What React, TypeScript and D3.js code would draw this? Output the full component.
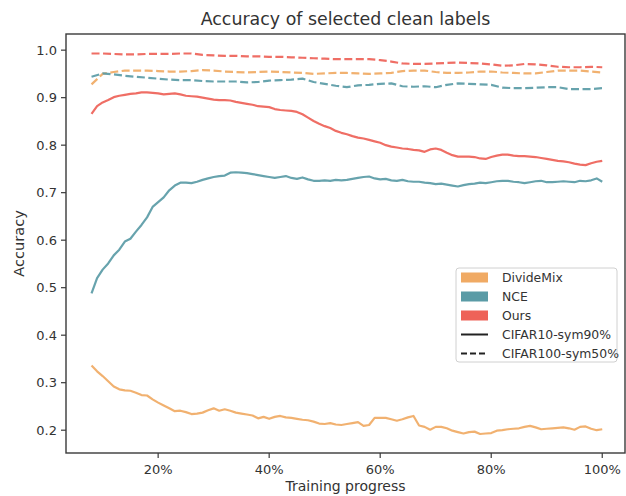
import React from 'react';
import * as d3 from 'd3';

const width = 626;
const height = 496;
const margin = { top: 34, right: 1, bottom: 43, left: 66 };

const fineSteps = d3.range(8, 101, 1);
const coarseSteps = d3.range(8, 101, 2);

const methods = ['DivideMix', 'NCE', 'Ours'];
const settings = ['CIFAR10-sym90%', 'CIFAR100-sym50%'];
const xTicks = [20, 40, 60, 80, 100];
const yTicks = [0.2, 0.3, 0.4, 0.5, 0.6, 0.7, 0.8, 0.9, 1.0];

// CIFAR10-sym90% (solid), one value per 1% of training
const divideMixSolid = [
  0.336, 0.324, 0.314, 0.303, 0.292, 0.286, 0.284, 0.283, 0.279, 0.274,
  0.273, 0.265, 0.258, 0.252, 0.246, 0.24, 0.241, 0.238, 0.234, 0.235,
  0.237, 0.242, 0.246, 0.241, 0.244, 0.241, 0.237, 0.235, 0.233, 0.231,
  0.225, 0.228, 0.224, 0.228, 0.23, 0.227, 0.226, 0.224, 0.222, 0.221,
  0.218, 0.214, 0.213, 0.215, 0.212, 0.211, 0.213, 0.215, 0.217, 0.209,
  0.211, 0.226, 0.226, 0.226, 0.223, 0.22, 0.223, 0.227, 0.23, 0.21,
  0.207, 0.201, 0.207, 0.207, 0.204, 0.199, 0.196, 0.193, 0.196, 0.197,
  0.192, 0.193, 0.194, 0.199, 0.2, 0.202, 0.203, 0.204, 0.207, 0.209,
  0.206, 0.202, 0.203, 0.204, 0.205, 0.206, 0.204, 0.201, 0.207, 0.208,
  0.203, 0.2, 0.202,
];
const nceSolid = [
  0.488, 0.52, 0.538, 0.551, 0.568, 0.58, 0.597, 0.603, 0.618, 0.632,
  0.648, 0.67, 0.68, 0.69, 0.705, 0.715, 0.721, 0.721, 0.72, 0.723,
  0.727, 0.73, 0.733, 0.735, 0.736, 0.742, 0.743, 0.742, 0.741, 0.739,
  0.737, 0.735, 0.733, 0.731, 0.733, 0.735, 0.731, 0.729, 0.732, 0.728,
  0.725, 0.725, 0.726, 0.725, 0.727, 0.726, 0.727, 0.729, 0.731, 0.733,
  0.734, 0.73, 0.728, 0.729, 0.726, 0.725, 0.727, 0.724, 0.723, 0.723,
  0.721, 0.72, 0.718, 0.719, 0.717, 0.715, 0.713, 0.716, 0.718, 0.719,
  0.721, 0.72, 0.722, 0.724, 0.725, 0.725, 0.723, 0.722, 0.72, 0.722,
  0.724, 0.725, 0.722, 0.722, 0.723, 0.724, 0.723, 0.722, 0.725, 0.724,
  0.726, 0.73, 0.723,
];
const oursSolid = [
  0.866, 0.882, 0.89, 0.895, 0.901, 0.904, 0.906, 0.908, 0.909, 0.911,
  0.911, 0.91, 0.909, 0.907, 0.908, 0.909, 0.907, 0.904, 0.903, 0.902,
  0.9, 0.898, 0.896, 0.895, 0.895, 0.894, 0.891, 0.889, 0.887, 0.885,
  0.882, 0.881, 0.88, 0.876, 0.874, 0.873, 0.872, 0.87, 0.865, 0.858,
  0.851, 0.845, 0.84, 0.836, 0.83, 0.826, 0.823, 0.819, 0.816, 0.814,
  0.811, 0.808, 0.805, 0.8, 0.797, 0.795, 0.793, 0.792, 0.79, 0.789,
  0.786, 0.791, 0.793, 0.79, 0.784, 0.779, 0.776, 0.776, 0.776, 0.775,
  0.772, 0.771, 0.775, 0.778, 0.78, 0.78, 0.778, 0.777, 0.777, 0.776,
  0.775, 0.773, 0.771, 0.769, 0.767, 0.766, 0.764, 0.761, 0.759, 0.758,
  0.762, 0.765, 0.767,
];

// CIFAR100-sym50% (dashed), one value per 2%
const divideMixDashed = [
  0.928, 0.95, 0.954, 0.957, 0.957, 0.957, 0.956, 0.955, 0.955, 0.956,
  0.958, 0.957, 0.955, 0.954, 0.953, 0.954, 0.955, 0.954, 0.953, 0.952,
  0.95, 0.951, 0.952, 0.952, 0.951, 0.95, 0.951, 0.952, 0.956, 0.957,
  0.957, 0.954, 0.952, 0.952, 0.953, 0.955, 0.955, 0.953, 0.952, 0.951,
  0.951, 0.954, 0.957, 0.957, 0.957, 0.955, 0.953,
];
const nceDashed = [
  0.944, 0.951, 0.949, 0.946, 0.944, 0.942, 0.94, 0.938, 0.937, 0.937,
  0.935, 0.934, 0.934, 0.934, 0.932, 0.933, 0.936, 0.937, 0.938, 0.94,
  0.933, 0.929, 0.925, 0.922, 0.926, 0.927, 0.929, 0.93, 0.924, 0.923,
  0.924, 0.922, 0.927, 0.93, 0.929, 0.928, 0.927, 0.921, 0.92, 0.92,
  0.921, 0.922, 0.922, 0.918, 0.918, 0.918, 0.92,
];
const oursDashed = [
  0.993, 0.993, 0.992, 0.991, 0.991, 0.992, 0.992, 0.992, 0.993, 0.993,
  0.99, 0.989, 0.988, 0.988, 0.987, 0.987, 0.986, 0.986, 0.985, 0.984,
  0.983, 0.982, 0.981, 0.981, 0.981, 0.981, 0.979, 0.976, 0.972, 0.971,
  0.971, 0.972, 0.973, 0.974, 0.973, 0.972, 0.97, 0.967, 0.968, 0.971,
  0.97, 0.968, 0.965, 0.964, 0.964, 0.965, 0.964,
];

const colors = ['#F0AA64', '#5A9BA6', '#EE6258'];
const font = 'DejaVu Sans, sans-serif';
const textColor = '#333';

export default function App() {
  const x = d3
    .scaleLinear()
    .domain([3.4, 104.1])
    .range([margin.left, width - margin.right]);
  const y = d3
    .scaleLinear()
    .domain([0.152, 1.034])
    .range([height - margin.bottom, margin.top]);

  const line = d3
    .line<[number, number]>()
    .x((d) => x(d[0]))
    .y((d) => y(d[1]));

  const solid = [divideMixSolid, nceSolid, oursSolid];
  const dashed = [divideMixDashed, nceDashed, oursDashed];

  const series = [
    ...solid.map((vals, i) => ({
      key: `s${i}`,
      color: colors[i],
      dash: undefined as string | undefined,
      pts: vals.map((v, j) => [fineSteps[j], v] as [number, number]),
    })),
    ...dashed.map((vals, i) => ({
      key: `d${i}`,
      color: colors[i],
      dash: '8,3.5',
      pts: vals.map((v, j) => [coarseSteps[j], v] as [number, number]),
    })),
  ];

  const left = margin.left;
  const right = width - margin.right;
  const top = margin.top;
  const bottom = height - margin.bottom;

  const lg = { x: 456, y: 268, w: 161, h: 94, row: 19 };

  return (
    <svg
      width={width}
      height={height}
      style={{ position: 'absolute', left: 0, top: 0, background: '#fff' }}
      fontFamily={font}
    >
      <rect width={width} height={height} fill="#fff" />
      <text x={(left + right) / 2} y={25} textAnchor="middle" fontSize={17.4} fill={textColor}>
        Accuracy of selected clean labels
      </text>

      {series.map((s) => (
        <path
          key={s.key}
          d={line(s.pts) || ''}
          fill="none"
          stroke={s.color}
          strokeWidth={2.2}
          strokeDasharray={s.dash}
          strokeLinejoin="round"
          opacity={0.92}
        />
      ))}

      {/* frame */}
      <rect
        x={left}
        y={top}
        width={right - left}
        height={bottom - top}
        fill="none"
        stroke="#3a3a3a"
        strokeWidth={1.4}
      />

      {yTicks.map((t) => (
        <g key={t} transform={`translate(0,${y(t)})`}>
          <line x1={left - 5} x2={left} stroke="#3a3a3a" strokeWidth={1.2} />
          <text x={left - 9} dy="0.36em" textAnchor="end" fontSize={13} fill={textColor}>
            {t.toFixed(1)}
          </text>
        </g>
      ))}
      {xTicks.map((t) => (
        <g key={t} transform={`translate(${x(t)},0)`}>
          <line y1={bottom} y2={bottom + 5} stroke="#3a3a3a" strokeWidth={1.2} />
          <text y={bottom + 21} textAnchor="middle" fontSize={13} fill={textColor}>
            {`${t}%`}
          </text>
        </g>
      ))}

      <text x={(left + right) / 2} y={491} textAnchor="middle" fontSize={14} fill={textColor}>
        Training progress
      </text>
      <text
        transform={`translate(24,${(top + bottom) / 2}) rotate(-90)`}
        textAnchor="middle"
        fontSize={14.6}
        fill={textColor}
      >
        Accuracy
      </text>

      {/* legend */}
      <rect
        x={lg.x}
        y={lg.y}
        width={lg.w}
        height={lg.h}
        rx={3}
        fill="#fff"
        fillOpacity={0.85}
        stroke="#d0d0d0"
        strokeWidth={1}
      />
      {methods.map((m, i) => (
        <g key={m} transform={`translate(${lg.x + 5},${lg.y + 9.5 + i * lg.row})`}>
          <rect x={0} y={-5} width={27} height={10} fill={colors[i]} />
          <text x={41} dy="0.35em" fontSize={12.4} fill={textColor}>
            {m}
          </text>
        </g>
      ))}
      {settings.map((s, i) => (
        <g key={s} transform={`translate(${lg.x + 5},${lg.y + 9.5 + (i + 3) * lg.row})`}>
          <line
            x1={0}
            x2={27}
            stroke="#222"
            strokeWidth={2}
            strokeDasharray={i === 1 ? '6,3' : undefined}
          />
          <text x={41} dy="0.35em" fontSize={12.4} fill={textColor}>
            {s}
          </text>
        </g>
      ))}
    </svg>
  );
}
